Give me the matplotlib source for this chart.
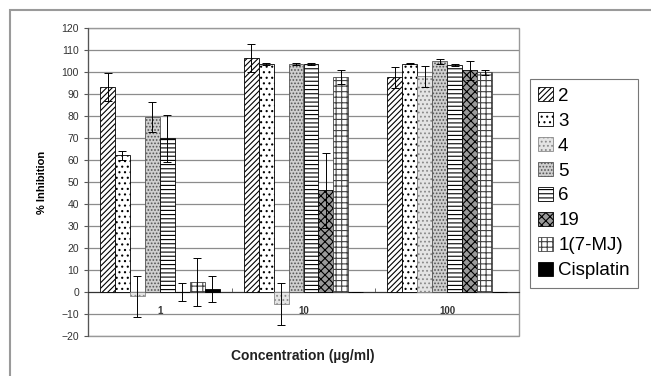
import matplotlib
matplotlib.use("Agg")
import matplotlib.pyplot as plt
import numpy as np
from matplotlib.patches import Rectangle

plt.rcParams["font.family"] = ["Liberation Sans", "DejaVu Sans"]
plt.rcParams["hatch.linewidth"] = 0.8

groups = ["1", "10", "100"]
series = ["2", "3", "4", "5", "6", "19", "1(7-MJ)", "Cisplatin"]

vals_2 = [93.2, 106.4, 97.7]
err_2 = [6.5, 6.4, 4.8]
vals_3 = [62.2, 103.8, 103.8]
err_3 = [2.0, 0.5, 0.3]
vals_4 = [-2.0, -5.5, 98.0]
err_4 = [9.5, 9.5, 4.6]
vals_5 = [79.4, 103.8, 104.8]
err_5 = [6.8, 0.5, 1.0]
vals_6 = [69.9, 103.8, 103.3]
err_6 = [10.6, 0.5, 0.5]
vals_19 = [0.0, 46.2, 100.7]
err_19 = [4.3, 17.0, 4.4]
vals_mj = [4.5, 97.7, 99.8]
err_mj = [11.0, 3.0, 1.0]
vals_cis = [1.5, 0.0, 0.0]
err_cis = [6.0, 0.0, 0.0]

all_vals = [vals_2, vals_3, vals_4, vals_5, vals_6, vals_19, vals_mj, vals_cis]
all_errs = [err_2, err_3, err_4, err_5, err_6, err_19, err_mj, err_cis]

# (facecolor, edgecolor, hatch) per series
styles = [
    ("white", "black", "//////"),
    ("white", "black", "..."),
    ("#e4e4e4", "#8a8a8a", "...."),
    ("#cfcfcf", "#555555", "....."),
    ("white", "black", "----"),
    ("#9a9a9a", "black", "xxxx"),
    ("white", "#444444", "+++"),
    ("black", "black", None),
]

fig = plt.figure(figsize=(6.51, 3.76), dpi=100)
ax = fig.add_axes([88 / 651, 1 - 336 / 376, 431 / 651, 308 / 376])

x = np.arange(len(groups))
w = 0.104
n = len(series)
for i, (name, v, e, st) in enumerate(zip(series, all_vals, all_errs, styles)):
    fc, ec, h = st
    pos = x + (i - (n - 1) / 2) * w
    ax.bar(pos, v, w, color=fc, edgecolor=ec, hatch=h, linewidth=0.6, label=name,
           yerr=e, error_kw=dict(ecolor="black", elinewidth=0.7, capsize=3, capthick=0.7),
           zorder=3)

ax.set_xlim(-0.5, 2.5)
ax.set_ylim(-20, 120)
ax.set_yticks(np.arange(-20, 121, 10))
ax.yaxis.grid(True, color="#8c8c8c", linewidth=0.9, zorder=0)
ax.set_axisbelow(True)

for s in ["top", "right"]:
    ax.spines[s].set_visible(False)
ax.spines["left"].set_color("#555555")
ax.spines["bottom"].set_position(("data", 0))
ax.spines["bottom"].set_color("#333333")
ax.add_patch(Rectangle((0, 0), 1, 1, transform=ax.transAxes, fill=False,
                       edgecolor="#999999", linewidth=1.0, zorder=1, clip_on=False))

ax.set_xticks(x)
ax.set_xticklabels(groups, fontsize=7, fontweight="bold", color="#333333")
ax.tick_params(axis="x", length=0, pad=10)
ax.set_xticks([0.5, 1.5], minor=True)
ax.tick_params(axis="x", which="minor", length=3, direction="in", color="#555555")
ax.tick_params(axis="y", labelsize=7.5, length=3, color="#555555", labelcolor="#333333")

ax.set_ylabel("% Inhibition", fontsize=8, fontweight="bold", labelpad=10)
fig.text(303 / 651, 1 - 356 / 376, "Concentration (\u00b5g/ml)", ha="center", va="center",
         fontsize=10, fontweight="bold", color="#222222")

leg = fig.legend(loc="upper left", bbox_to_anchor=(530 / 651, 1 - 79 / 376), fontsize=13.5,
                 frameon=True, fancybox=False, edgecolor="#555555", handlelength=0.75,
                 handleheight=0.75, handletextpad=0.3, labelspacing=0.4, borderpad=0.45,
                 borderaxespad=0)
leg.get_frame().set_linewidth(0.8)

fig.patches.append(Rectangle((10 / 651, -0.1), 1.2, 1 - 10 / 376 + 0.1, transform=fig.transFigure,
                             fill=False, edgecolor="#9a9a9a", linewidth=1.5))

fig.savefig("out.png", dpi=100)
